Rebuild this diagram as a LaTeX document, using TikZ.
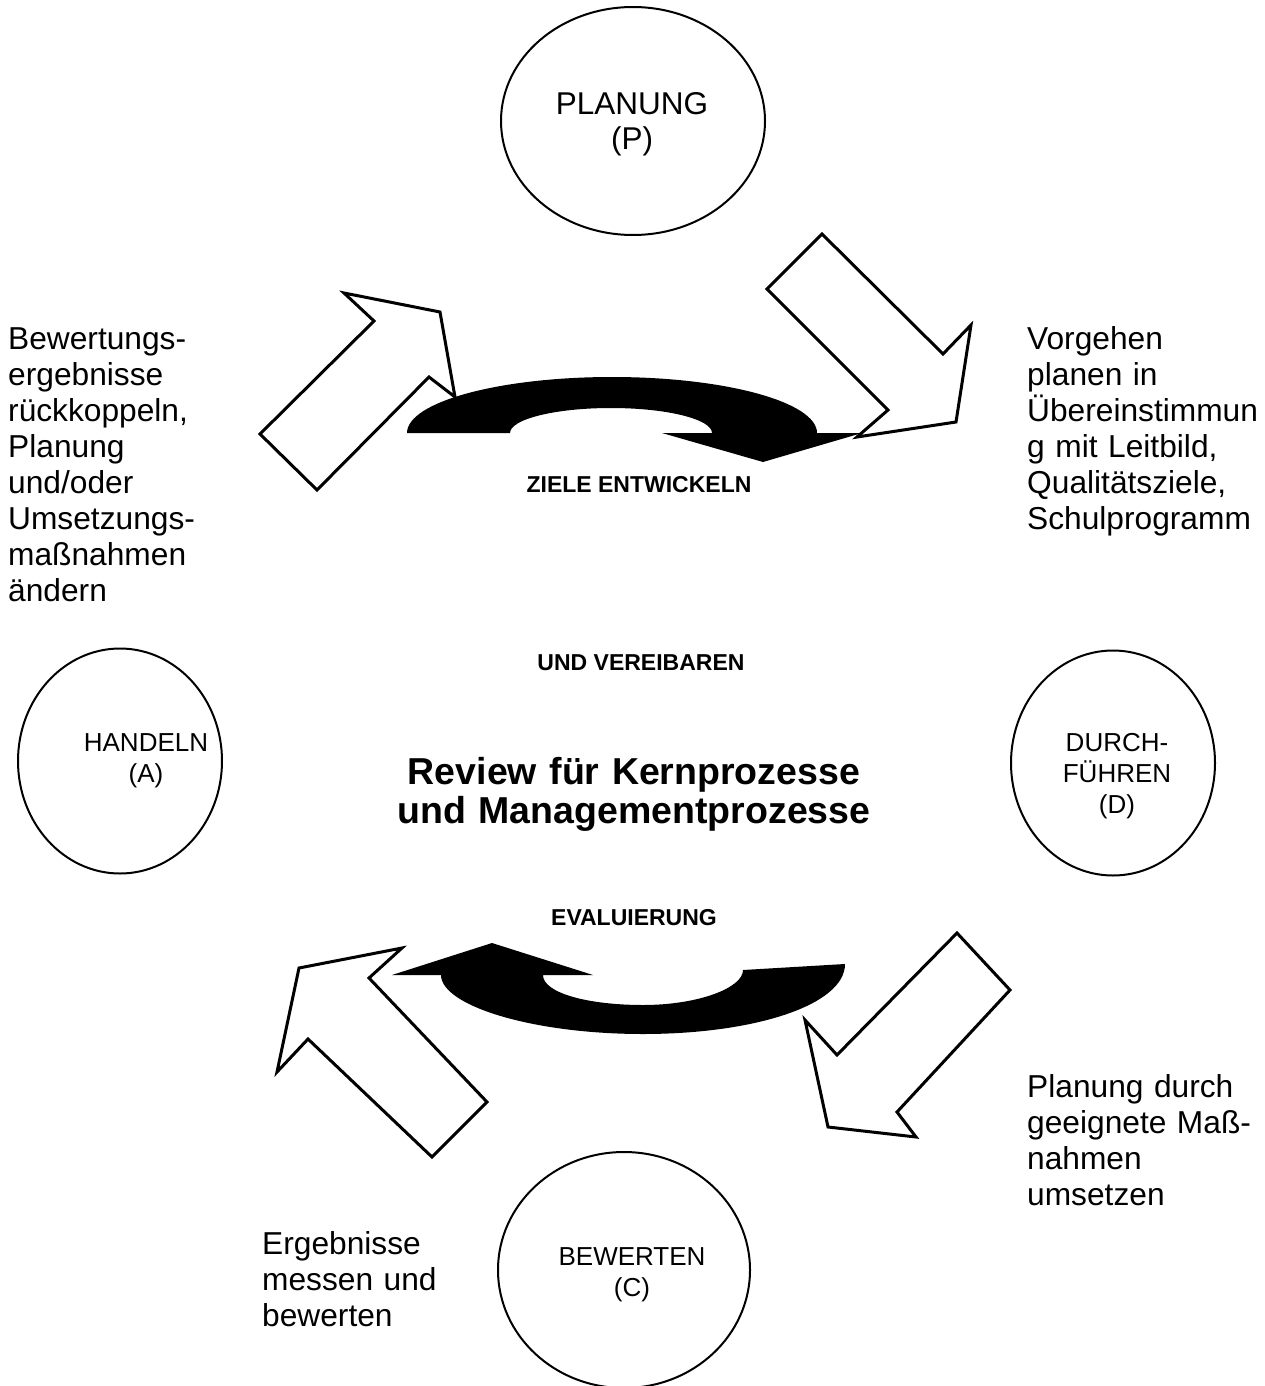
\documentclass[tikz,border=0pt]{standalone}
\usepackage{fontspec}
\setmainfont{Liberation Sans}
\usetikzlibrary{shapes.geometric}
\begin{document}
\begin{tikzpicture}[x=1pt,y=-1pt,
  phase/.style={draw, ellipse, line width=2pt, inner sep=0pt},
  phasetext/.style={align=center, anchor=base, inner sep=0pt, text width=220pt,
    font=\fontsize{26}{31}\selectfont},
  note/.style={align=left, anchor=base west, inner sep=0pt, text width=240pt,
    font=\fontsize{31.7}{36}\selectfont},
  caption/.style={anchor=base, inner sep=0pt, font=\bfseries\fontsize{23}{27}\selectfont},
  hollow/.style={draw, fill=white, line width=3pt, line join=miter},
  swirl/.style={fill=black}]
\useasboundingbox (0,0) rectangle (1265,1386);
\clip (0,0) rectangle (1265,1386);

% the four phases of the cycle
\node[phase, minimum width=264pt, minimum height=228pt] (plan) at (633,121) {};
\node[phase, minimum width=204pt, minimum height=225pt] (act)  at (120,761) {};
\node[phase, minimum width=204pt, minimum height=225pt] (do)   at (1113,763) {};
\node[phase, minimum width=252pt, minimum height=236pt] (check) at (624,1270) {};

\node[phasetext, font=\fontsize{31.5}{35}\selectfont] (plantext) at (632,115) {PLANUNG\\(P)};
\node[phasetext] (acttext) at (146,751) {HANDELN\\(A)};
\node[phasetext] (dotext) at (1117,751) {DURCH-\\FÜHREN\\(D)};
\node[phasetext] (checktext) at (632,1265) {BEWERTEN\\(C)};

% hollow block arrows between the phases
\path[hollow] (317,490) -- (260,434) -- (374,321) -- (344,293) -- (440,312)
  -- (455,397) -- (429,377) -- cycle;
\path[hollow] (822,234) -- (767,289) -- (888,410) -- (857,437) -- (956,422)
  -- (971,325) -- (943,354) -- cycle;
\path[hollow] (957,933) -- (1010,990) -- (897,1112) -- (916,1137) -- (828,1127)
  -- (805,1020) -- (837,1055) -- cycle;
\path[hollow] (487,1102) -- (432,1157) -- (308,1039) -- (277,1072) -- (299,968)
  -- (402,948) -- (369,978) -- cycle;

% upper black swirl, turning clockwise
\path[swirl] (407,433) .. controls (407,402.1) and (498.8,377) .. (612,377)
  .. controls (725.2,377) and (817,402.1) .. (817,433)
  -- (862,433) -- (763,462) -- (662,433) -- (712,433)
  .. controls (712,419.2) and (666.8,408) .. (611,408)
  .. controls (555.2,408) and (510,419.2) .. (510,433) -- cycle;

% lower black swirl, turning back to the left
\path[swirl] (392,975) -- (492,943) -- (593,975) -- (543,975)
  .. controls (543,993) and (588,1005) .. (643,1005)
  .. controls (698,1005) and (743,988) .. (743,970)
  -- (845,964)
  .. controls (845,1005) and (754.6,1034) .. (643,1034)
  .. controls (531.4,1034) and (441,1005.3) .. (441,975) -- cycle;

% explanatory notes beside the arrows
\node[note] (notea) at (8,349) {Bewertungs-\\ergebnisse\\rückkoppeln,\\Planung\\und/oder\\Umsetzungs-\\maßnahmen\\ändern};
\node[note] (notep) at (1027,349) {Vorgehen\\planen in\\Übereinstimmun\\g mit Leitbild,\\Qualitätsziele,\\Schulprogramm};
\node[note] (noted) at (1027,1097) {Planung durch\\geeignete Maß-\\nahmen\\umsetzen};
\node[note] (notec) at (262,1254) {Ergebnisse\\messen und\\bewerten};

% captions in the middle
\node[caption] (goals) at (639,492) {ZIELE ENTWICKELN};
\node[caption] (agree) at (641,670) {UND VEREIBAREN};
\node[caption] (eval) at (634,925) {EVALUIERUNG};
\node[align=center, anchor=base, inner sep=0pt, text width=600pt,
  font=\bfseries\fontsize{37.5}{39.5}\selectfont] (title) at (634,784)
  {Review für Kernprozesse\\und Managementprozesse};
\end{tikzpicture}
\end{document}
